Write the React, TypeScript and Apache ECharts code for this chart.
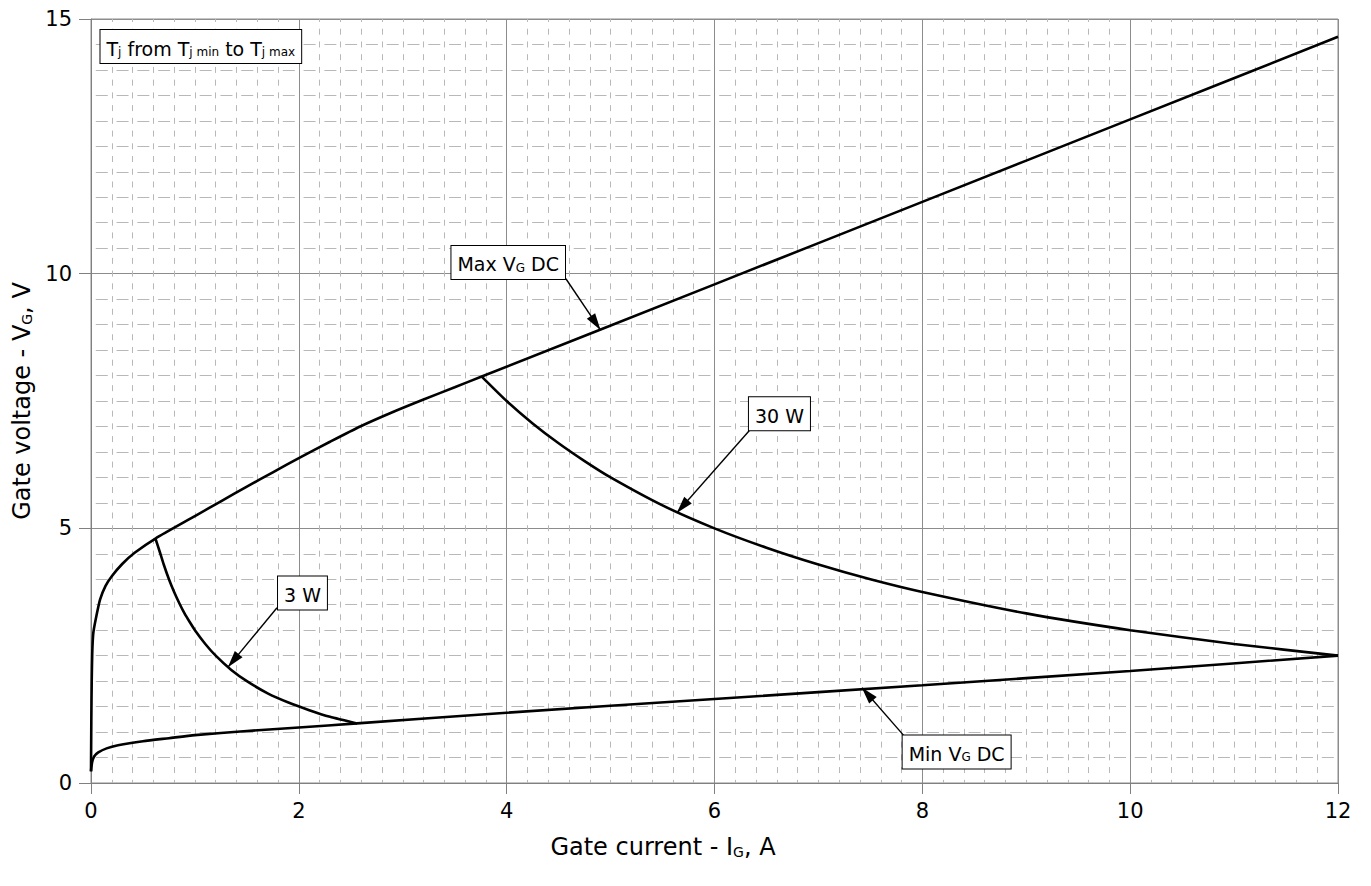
import React, { useEffect, useRef } from "react";
import * as echarts from "echarts";

// ---- Data ----
// Max V_G DC boundary (gate current A, gate voltage V)
const maxVgI = [0, 0.003, 0.007, 0.012, 0.022, 0.045, 0.087, 0.14, 0.2, 0.3, 0.42, 0.62, 1.0, 1.25, 1.5, 1.75, 2.0, 2.3, 2.59, 2.9, 3.2, 3.5, 3.76, 6, 8, 10, 12];
const maxVgV = [0.23, 1.2, 2.0, 2.55, 2.94, 3.21, 3.6, 3.87, 4.06, 4.3, 4.52, 4.8, 5.24, 5.53, 5.82, 6.1, 6.38, 6.7, 7.0, 7.28, 7.53, 7.77, 7.98, 9.79, 11.41, 13.03, 14.65];

// Min V_G DC boundary
const minVgI = [0, 0.01, 0.03, 0.07, 0.15, 0.26, 0.5, 0.75, 1.0, 1.5, 2.0, 2.56, 4, 6, 8, 10, 12];
const minVgV = [0.23, 0.4, 0.52, 0.6, 0.68, 0.74, 0.82, 0.88, 0.94, 1.02, 1.09, 1.17, 1.38, 1.65, 1.92, 2.2, 2.5];

// 3 W power curve
const p3wI = [0.62, 0.66, 0.7, 0.75, 0.8, 0.85, 0.9, 0.95, 1.0, 1.1, 1.2, 1.35, 1.5, 1.7, 1.9, 2.1, 2.3, 2.56];
const p3wV = [4.8, 4.55, 4.29, 4.0, 3.75, 3.53, 3.33, 3.16, 3.0, 2.73, 2.5, 2.22, 2.0, 1.76, 1.58, 1.43, 1.3, 1.17];

// 30 W power curve
const p30wI = [3.76, 4, 4.25, 4.5, 4.75, 5, 5.5, 6, 6.5, 7, 7.5, 8, 9, 10, 11, 12];
const p30wV = [7.98, 7.5, 7.06, 6.67, 6.32, 6.0, 5.45, 5.0, 4.62, 4.29, 4.0, 3.75, 3.33, 3.0, 2.73, 2.5];

// Axis ranges / ticks
const xRange = [0, 12];
const xStep = 2;
const yRange = [0, 15];
const yStep = 5;

// Annotation texts (rich text) and their anchor points in data coordinates
const noteTexts = [
  "{n|T}{s|j}{n| from T}{s|j min}{n| to T}{s|j max}",
  "{n|Max V}{s|G}{n| DC}",
  "{n|30 W}",
  "{n|3 W}",
  "{n|Min V}{s|G}{n| DC}",
];
const noteAt: number[][] = [
  [1.057, 14.46],
  [4.015, 10.22],
  [6.625, 7.25],
  [2.035, 3.73],
  [8.33, 0.61],
];
// Arrows: [from, to] in data coordinates
const arrowFrom: number[][] = [
  [4.57, 9.9],
  [6.336, 6.92],
  [1.79, 3.44],
  [7.82, 0.935],
];
const arrowTo: number[][] = [
  [4.9, 8.9],
  [5.64, 5.31],
  [1.32, 2.28],
  [7.42, 1.87],
];

const FONT = "DejaVu Sans";

const zip = (a: number[], b: number[]) => a.map((v, i) => [v, b[i]]);

export default function App() {
  const ref = useRef<HTMLDivElement>(null);

  useEffect(() => {
    if (!ref.current) return;
    const chart = echarts.init(ref.current, undefined, { renderer: "svg" });

    const boxRich = {
      n: { fontFamily: FONT, fontSize: 19, color: "#000", lineHeight: 23, verticalAlign: "bottom" },
      s: { fontFamily: FONT, fontSize: 12, color: "#000", lineHeight: 17, verticalAlign: "bottom" },
    };
    const nameRich = {
      n: { fontFamily: FONT, fontSize: 24, color: "#000", lineHeight: 28, verticalAlign: "bottom" },
      s: { fontFamily: FONT, fontSize: 14, color: "#000", lineHeight: 20, verticalAlign: "bottom" },
    };

    const curveStyle = { color: "#000", width: 2.6 };
    const mkLine = (data: number[][]) => ({
      type: "line",
      data,
      showSymbol: false,
      symbol: "none",
      smooth: 0.2,
      lineStyle: curveStyle,
      itemStyle: { color: "#000" },
      silent: true,
      z: 3,
    });

    const axisLabel = { fontFamily: FONT, fontSize: 21, color: "#000" };

    chart.setOption({
      animation: false,
      backgroundColor: "#fff",
      grid: {
        left: 91,
        right: 33,
        top: 19,
        bottom: 103,
        show: true,
        borderColor: "#8c8c8c",
        borderWidth: 1,
        backgroundColor: "#fff",
      },
      xAxis: {
        type: "value",
        min: xRange[0],
        max: xRange[1],
        interval: xStep,
        axisLine: { show: true, onZero: false, lineStyle: { color: "#808080", width: 1 } },
        axisTick: { show: true, inside: false, length: 11, lineStyle: { color: "#808080" } },
        axisLabel: { ...axisLabel, margin: 17 },
        splitLine: { show: true, lineStyle: { color: "#8c8c8c", width: 1 } },
        minorTick: { show: false, splitNumber: 10 },
        minorSplitLine: {
          show: true,
          lineStyle: { color: "#b8b8b8", width: 1, type: [6, 6.73], dashOffset: 3 },
        },
        name: "{n|Gate current - I}{s|G}{n|, A}",
        nameLocation: "middle",
        nameGap: 48,
        nameTextStyle: { padding: [0, 103, 0, 0], rich: nameRich },
      },
      yAxis: {
        type: "value",
        min: yRange[0],
        max: yRange[1],
        interval: yStep,
        axisLine: { show: true, onZero: false, lineStyle: { color: "#808080", width: 1 } },
        axisTick: { show: true, inside: false, length: 12, lineStyle: { color: "#808080" } },
        axisLabel: { ...axisLabel, margin: 19 },
        splitLine: { show: true, lineStyle: { color: "#8c8c8c", width: 1 } },
        minorTick: { show: false, splitNumber: 10 },
        minorSplitLine: {
          show: true,
          lineStyle: { color: "#b8b8b8", width: 1, type: [12, 8.78], dashOffset: 16.39 },
        },
        name: "{n|Gate voltage - V}{s|G}{n|, V}",
        nameLocation: "middle",
        nameGap: 55,
        nameTextStyle: { rich: nameRich },
      },
      series: [
        {
          ...mkLine(zip(maxVgI, maxVgV)),
          markLine: {
            silent: true,
            animation: false,
            label: { show: false },
            lineStyle: { color: "#000", width: 1.4, type: "solid" },
            symbol: ["none", "triangle"],
            data: arrowFrom.map((f, i) => [
              { coord: f, symbol: "none" },
              { coord: arrowTo[i], symbol: "triangle", symbolSize: [10, 17], symbolOffset: [0, 8] },
            ]),
            z: 4,
          },
          markPoint: {
            silent: true,
            animation: false,
            symbol: "rect",
            symbolSize: 0,
            data: noteTexts.map((t, i) => ({
              coord: noteAt[i],
              value: 0,
              label: {
                show: true,
                position: "inside",
                formatter: t,
                backgroundColor: "#fff",
                borderColor: "#000",
                borderWidth: 1,
                padding: [5, 6, 5, 6],
                rich: boxRich,
              },
            })),
            z: 5,
          },
        },
        mkLine(zip(minVgI, minVgV)),
        mkLine(zip(p3wI, p3wV)),
        mkLine(zip(p30wI, p30wV)),
      ],
    });

    return () => chart.dispose();
  }, []);

  return (
    <div
      ref={ref}
      style={{ position: "fixed", left: 0, top: 0, width: 1371, height: 886, background: "#fff" }}
    />
  );
}
